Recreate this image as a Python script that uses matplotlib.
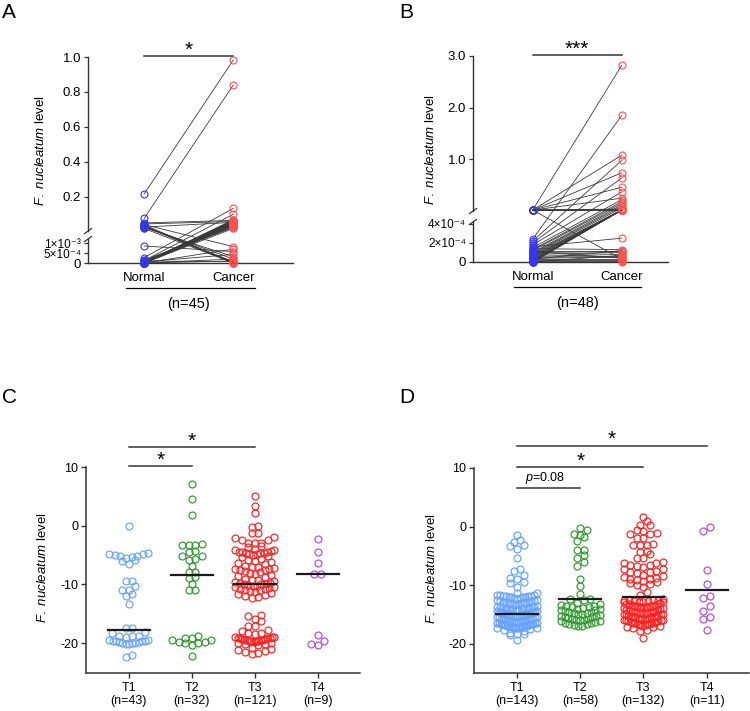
import numpy as np
import matplotlib
matplotlib.use('Agg')
import matplotlib.pyplot as plt

plt.rcParams['font.family'] = ['Liberation Sans', 'DejaVu Sans']
plt.rcParams['mathtext.fontset'] = 'custom'
plt.rcParams['mathtext.rm'] = 'Liberation Sans'
plt.rcParams['mathtext.it'] = 'Liberation Sans:italic'
plt.rcParams['axes.unicode_minus'] = False
plt.rcParams['font.size'] = 9

# ---------------- data ----------------
# panel A: paired normal / cancer (n=45)
normal_a = [0.217, 0.078, 0.052, 0.046, 0.042, 0.040, 0.036, 0.034, 0.033, 0.031,
            0.030, 0.028, 0.025, 0.020, 0.00085, 0.00027, 0.00012, 0.0, 0.0, 0.00005,
            0.0, 0.00002, 0.0, 0.0, 0.00008, 0.0, 0.0, 0.00003, 0.0, 0.0,
            0.0001, 0.0, 0.0, 0.00004, 0.0, 0.0, 0.00015, 0.0, 0.0, 0.00006,
            0.0, 0.0001, 0.0, 0.00002, 0.0]
cancer_a = [0.983, 0.840, 0.066, 0.060, 0.00082, 0.0, 0.00002, 0.00007, 0.0, 0.00020,
            0.00004, 0.055, 0.00032, 0.0, 0.00057, 0.135, 0.101, 0.070, 0.066, 0.064,
            0.062, 0.060, 0.058, 0.056, 0.054, 0.052, 0.050, 0.048, 0.046, 0.044,
            0.042, 0.040, 0.038, 0.036, 0.034, 0.030, 0.025, 0.020, 0.00070, 0.00043,
            0.00020, 0.00007, 0.0, 0.00002, 0.00010]

# panel B: paired normal / cancer (n=48)
normal_b = [0.02, 0.02, 0.02, 0.02, 0.02, 0.02, 0.02, 0.02, 0.02, 0.02,
            0.02, 0.02, 0.00024, 0.00022, 0.0002, 0.00018, 0.00016, 0.00015, 0.00013, 0.00012,
            0.0001, 0.00009, 0.00008, 0.00007, 0.00006, 0.00005, 0.00004, 0.00003, 0.00002, 0.00001,
            0.0, 0.0, 0.0, 0.00002, 0.00014, 0.00012, 0.0001, 0.00008, 0.00006, 0.00005,
            0.00004, 0.00003, 0.00002, 0.00001, 0.0, 0.00011, 0.00003, 0.0]
cancer_b = [2.82, 1.08, 0.74, 0.46, 0.25, 0.02, 0.021, 0.019, 0.022, 0.00003,
            0.04, 0.018, 1.85, 0.98, 0.64, 0.37, 0.00025, 0.22, 0.18, 0.15,
            0.12, 0.09, 0.06, 0.02, 0.021, 0.019, 0.023, 0.02, 0.018, 0.022,
            0.02, 0.019, 0.021, 0.017, 0.00013, 0.00012, 0.00011, 0.0001, 0.00008, 0.00006,
            0.00005, 0.00003, 0.00002, 0.00001, 0.0, 0.00004, 0.00012, 0.00007]

stages = ['T1', 'T2', 'T3', 'T4']

# panel C
c_t1 = [0.0, -4.7, -4.8, -4.9, -5.0, -5.1, -5.2, -5.3, -5.5, -5.8, -6.0, -6.6,
        -9.5, -9.5, -10.2, -10.9, -10.9, -11.6, -11.9, -13.4,
        -17.5, -17.5, -18.1, -18.2, -18.7, -18.8, -18.8, -18.9,
        -19.4, -19.5, -19.6, -19.6, -19.7, -19.7, -19.8, -19.8, -19.9, -20.0, -20.0, -20.1, -20.2,
        -22.0, -22.3]
c_t2 = [7.1, 4.6, 1.8, -3.1, -3.2, -3.3, -3.2, -4.4, -4.3, -5.2, -5.1, -5.8, -5.7, -6.8,
        -7.9, -7.8, -8.9, -8.8, -10.0, -11.0, -11.0,
        -18.7, -19.2, -19.5, -19.8, -20.0, -20.3, -20.0, -19.8, -19.4, -19.1, -22.2]
c_t3 = [5.0, 3.3, 2.2, 0.0, -0.2, -1.3, -1.3, -2.0, -2.1, -2.4, -2.5, -2.9, -2.9, -2.9,
        -3.5, -3.7, -3.9, -4.1, -4.2, -4.3, -4.4, -4.5, -4.5, -4.6, -4.6, -4.7, -4.8, -4.9,
        -5.0, -5.2, -5.4, -5.6, -5.8, -6.0, -6.2, -6.4, -6.6, -6.8, -7.0, -7.1, -7.2, -7.3,
        -7.4, -7.5, -7.6, -7.7, -7.8, -8.0, -8.2, -8.4, -8.6, -8.8, -9.0, -9.2, -9.3, -9.5,
        -9.6, -9.7, -9.8, -9.9,
        -10.0, -10.0, -10.1, -10.2, -10.3, -10.4, -10.5, -10.6, -10.7, -10.8, -10.9, -11.0,
        -11.1, -11.3, -11.5, -11.7, -11.8, -12.0, -12.1, -12.3,
        -15.2, -15.3, -15.9, -16.2, -17.1, -17.1, -17.7, -17.9, -18.3, -18.3, -18.4,
        -18.9, -19.0, -19.0, -19.1, -19.1, -19.2, -19.2, -19.3, -19.3, -19.4, -19.4, -19.5,
        -19.5, -19.6, -19.6, -19.7, -19.7, -19.8, -19.9, -20.0, -20.1, -20.2, -20.3,
        -20.8, -21.0, -21.2, -21.4, -21.6, -21.8, -21.5]
c_t4 = [-2.2, -4.4, -6.4, -8.3, -8.2, -18.6, -19.6, -20.4, -20.1]
c_median = [-17.7, -8.4, -10.0, -8.3]
c_n = [43, 32, 121, 9]

# panel D
d_t1 = [-1.4, -2.3, -2.7, -3.2, -3.4, -3.8, -5.3, -7.3, -7.5, -8.2, -8.8, -9.0, -9.5, -9.6,
        -10.3, -11.3, -11.4,
        -11.6, -11.7, -11.7, -11.8, -11.8, -11.9, -11.9, -12.0, -12.0, -12.1, -12.1, -12.2,
        -12.2, -12.3,
        -12.5, -12.6, -12.6, -12.7, -12.7, -12.8, -12.8, -12.9, -12.9, -13.0, -13.0, -13.1,
        -13.1, -13.2, -13.2, -13.3,
        -13.6, -13.7, -13.7, -13.8, -13.8, -13.9, -13.9, -14.0, -14.0, -14.0, -14.1, -14.1,
        -14.1, -14.2, -14.2, -14.3, -14.3, -14.4, -14.4, -14.5,
        -14.6, -14.6, -14.7, -14.7, -14.8, -14.8, -14.9, -14.9, -15.0, -15.0, -15.0, -15.1,
        -15.1, -15.1, -15.2, -15.2, -15.3, -15.3, -15.4, -15.4, -15.5, -15.5,
        -15.7, -15.7, -15.8, -15.8, -15.9, -15.9, -16.0, -16.0, -16.0, -16.1, -16.1, -16.1,
        -16.2, -16.2, -16.2, -16.3, -16.3, -16.3, -16.4, -16.4, -16.5, -16.5,
        -16.6, -16.6, -16.6, -16.7, -16.7, -16.7, -16.8, -16.8, -16.8, -16.9, -16.9, -16.9,
        -17.0, -17.0, -17.0, -17.1, -17.1, -17.1, -17.2, -17.2, -17.3, -17.3, -17.4, -17.4,
        -17.5,
        -17.7, -17.9, -18.1, -18.3, -18.5, -18.4, -19.3]
d_t2 = [-0.3, -0.5, -1.2, -1.4, -1.8, -2.5, -4.0, -4.0, -4.9, -5.3, -6.1, -6.7, -8.9,
        -10.1, -11.5, -12.3, -12.4, -12.5,
        -13.0, -13.2, -13.4, -13.5, -13.6, -13.7, -13.8, -13.9, -14.0, -14.1, -14.2, -14.3,
        -14.4, -14.5, -14.6, -14.7, -14.8, -14.9, -15.0, -15.1, -15.2, -15.3, -15.4, -15.5,
        -15.6, -15.7, -15.8, -15.9, -16.0, -16.1, -16.2, -16.3, -16.4, -16.5, -16.6, -16.7,
        -16.8, -16.9, -17.0, -16.0]
d_t3 = [1.6, 0.9, 0.3, 0.2, -0.6, -0.7, -1.1, -1.2, -1.3, -1.9, -2.0, -2.9, -3.1, -3.1,
        -3.2, -4.2, -4.4, -4.7, -5.3, -5.4, -6.1, -6.2, -6.3, -6.5, -6.6, -6.8, -6.9, -7.2,
        -7.3, -7.5, -7.7, -7.8, -8.0, -8.2, -8.4, -8.6, -8.8, -8.9, -9.0, -9.2, -9.3, -9.5,
        -9.6, -9.8, -10.0, -10.4, -11.1, -11.6,
        -12.4, -12.5, -12.5, -12.6, -12.6, -12.7, -12.7, -12.8, -12.8, -12.9, -12.9, -13.0,
        -13.2, -13.3, -13.3, -13.4, -13.4, -13.5, -13.5, -13.6, -13.6, -13.7, -13.7, -13.8,
        -13.8, -13.9, -13.9, -14.0,
        -14.2, -14.3, -14.3, -14.4, -14.4, -14.5, -14.5, -14.6, -14.6, -14.7, -14.7, -14.8,
        -14.8, -14.9, -14.9, -15.0, -15.0, -15.1,
        -15.2, -15.3, -15.3, -15.4, -15.4, -15.5, -15.5, -15.6, -15.6, -15.7, -15.7, -15.8,
        -15.8, -15.9, -15.9, -16.0, -16.0, -16.1,
        -16.2, -16.3, -16.3, -16.4, -16.4, -16.5, -16.5, -16.6, -16.6, -16.7, -16.7, -16.8,
        -16.9, -17.0, -17.1, -17.2, -17.3,
        -17.7, -17.9, -19.1]
d_t4 = [0.0, -0.7, -7.4, -9.8, -11.8, -12.2, -13.5, -14.4, -15.5, -15.8, -17.6]
d_median = [-15.0, -12.4, -12.0, -10.9]
d_n = [143, 58, 132, 11]

stage_colors = ['#66a3ff', '#2b9a2b', '#ff2020', '#b348e0']
normal_color = '#3535f0'
cancer_color = '#ff5050'
spine_color = '#333333'

W, H = 750, 711
fig = plt.figure(figsize=(W / 100, H / 100), dpi=100)


def px_axes(l, t, r, b):
    return fig.add_axes([l / W, 1 - b / H, (r - l) / W, (b - t) / H])


def piecewise(vb, hb):
    vb = np.asarray(vb, float)
    hb = np.asarray(hb, float)

    def lin(x, xs, ys):
        x = np.asarray(x, float)
        out = np.interp(x, xs, ys)
        hi = ys[-1] + (x - xs[-1]) * (ys[-1] - ys[-2]) / (xs[-1] - xs[-2])
        lo = ys[0] + (x - xs[0]) * (ys[1] - ys[0]) / (xs[1] - xs[0])
        return np.where(x > xs[-1], hi, np.where(x < xs[0], lo, out))

    return (lambda v: lin(v, vb, hb)), (lambda h: lin(h, hb, vb))


def paired_panel(rect, normal, cancer, vb, hb, ticks, ticklabels, small_ticks, xlim,
                 n_text, stars, uline):
    ax = px_axes(*rect)
    fwd, inv = piecewise(vb, hb)
    ax.set_yscale('function', functions=(fwd, inv))
    ax.set_ylim(vb[0], vb[-1])
    ax.set_xlim(*xlim)
    for n, c in zip(normal, cancer):
        ax.plot([0, 1], [n, c], color='#3a3a3a', lw=0.6, zorder=2, clip_on=False)
    ax.plot(np.zeros(len(normal)), normal, 'o', mfc='none', mec=normal_color,
            ms=5, mew=0.8, zorder=3, clip_on=False)
    ax.plot(np.ones(len(cancer)), cancer, 'o', mfc='none', mec=cancer_color,
            ms=5, mew=0.8, zorder=3, clip_on=False)
    ax.set_yticks(ticks)
    ax.set_yticklabels(ticklabels)
    ax.set_xticks([0, 1])
    ax.set_xticklabels(['Normal', 'Cancer'])
    ax.tick_params(direction='out', length=3, width=0.9, color=spine_color,
                   labelsize=9.5, pad=2)
    ax.tick_params(axis='x', length=2.5, pad=4)
    for i in small_ticks:
        ax.get_yticklabels()[i].set_fontsize(8.5)
    for s in ['top', 'right', 'left']:
        ax.spines[s].set_visible(False)
    ax.spines['bottom'].set_linewidth(1.0)
    ax.spines['bottom'].set_color(spine_color)
    # broken left spine
    ytr = ax.get_yaxis_transform()
    ax.plot([0, 0], [vb[0], vb[1]], color=spine_color, lw=1.0, transform=ytr, clip_on=False)
    ax.plot([0, 0], [vb[2], vb[3]], color=spine_color, lw=1.0, transform=ytr, clip_on=False)
    wpx = rect[2] - rect[0]
    hpx = rect[3] - rect[1]
    for hb_mark in (hb[1], hb[2]):
        fy = hb_mark / hb[-1]
        ax.plot([-3.5 / wpx, 3.5 / wpx], [fy - 2.5 / hpx, fy + 2.5 / hpx],
                color=spine_color, lw=0.9, transform=ax.transAxes, clip_on=False)
    # significance bar
    xtr = ax.get_xaxis_transform()
    ax.plot([0, 1], [1.005, 1.005], color=spine_color, lw=1.1, transform=xtr, clip_on=False)
    ax.text(0.5, 0.985, stars, ha='center', va='bottom', fontsize=15, transform=xtr)
    # underline and n
    ax.plot(uline, [-0.123, -0.123], color='black', lw=0.9, transform=xtr, clip_on=False)
    ax.text(0.5, -0.2, n_text, ha='center', va='center', fontsize=10.5, transform=xtr)
    return ax


paired_panel((88, 57, 293, 263), normal_a, cancer_a,
             [0, 1.2e-3, 0.005, 1.0], [0, 24, 31.9, 206],
             [0, 5e-4, 1e-3, 0.2, 0.4, 0.6, 0.8, 1.0],
             ['0', '5×10⁻⁴', '1×10⁻³', '0.2', '0.4', '0.6', '0.8', '1.0'],
             [1, 2], (-0.63, 1.67), '(n=45)', '*', [-0.2, 1.24])

paired_panel((473, 56, 668, 262), normal_b, cancer_b,
             [0, 4.2e-4, 0.002, 3.0], [0, 40, 51.0, 206],
             [0, 2e-4, 4e-4, 1.0, 2.0, 3.0],
             ['0', '2×10⁻⁴', '4×10⁻⁴', '1.0', '2.0', '3.0'],
             [1, 2], (-0.67, 1.52), '(n=48)', '***', [-0.21, 1.22])


def swarm_offsets(vals, row_h, step, max_half):
    vals = np.asarray(vals, float)
    order = np.argsort(vals)
    offs = np.zeros(len(vals))
    rows, cur = [], [order[0]]
    for i in order[1:]:
        if vals[i] - vals[cur[0]] < row_h:
            cur.append(i)
        else:
            rows.append(cur)
            cur = [i]
    rows.append(cur)
    for row in rows:
        k = len(row)
        s = step if k < 2 else min(step, 2 * max_half / (k - 1))
        if k % 2:
            slots = [0] + [sg * j for j in range(1, k // 2 + 1) for sg in (-1, 1)]
        else:
            slots = [sg * (j - 0.5) for j in range(1, k // 2 + 1) for sg in (-1, 1)]
        for idx, sl in zip(row, slots):
            offs[idx] = sl * s
    return offs


def stage_panel(rect, groups, medians, ns, bars):
    ax = px_axes(*rect)
    ax.set_ylim(-25, 10)
    ax.set_xlim(-0.68, 3.67)
    for i, (vals, col) in enumerate(zip(groups, stage_colors)):
        xo = swarm_offsets(vals, 1.0, 0.105, 0.31)
        ax.plot(i + xo, vals, 'o', mfc='none', mec=col, ms=5, mew=0.85,
                ls='none', zorder=2)
        ax.plot([i - 0.33, i + 0.33], [medians[i], medians[i]], color='#1a1a1a',
                lw=1.6, zorder=3)
    ax.set_yticks([-20, -10, 0, 10])
    ax.set_xticks(range(4))
    ax.set_xticklabels([f'{s}\n(n={n})' for s, n in zip(stages, ns)], linespacing=1.15)
    ax.tick_params(direction='out', length=3.5, width=1.0, color=spine_color,
                   labelsize=9, pad=2)
    ax.tick_params(axis='x', pad=3)
    for s in ['top', 'right']:
        ax.spines[s].set_visible(False)
    for s in ['left', 'bottom']:
        ax.spines[s].set_linewidth(1.1)
        ax.spines[s].set_color(spine_color)
    for x0, x1, y, label in bars:
        ax.plot([x0, x1], [y, y], color=spine_color, lw=1.1, clip_on=False)
        if label == '*':
            ax.text((x0 + x1) / 2, y - 0.6, '*', ha='center', va='bottom', fontsize=15)
        else:
            ax.text((x0 + x1) / 2 - 0.06, y + 0.3, label, ha='center', va='bottom',
                    fontsize=9)
    return ax


stage_panel((86, 467, 360, 672.5), [c_t1, c_t2, c_t3, c_t4], c_median, c_n,
            [(0, 1, 10.2, '*'), (0, 2, 13.4, '*')])
stage_panel((474, 468, 749, 673), [d_t1, d_t2, d_t3, d_t4], d_median, d_n,
            [(0, 1, 6.6, '$\\it{p}$=0.08'), (0, 2, 10.2, '*'), (0, 3, 13.8, '*')])

# y labels and panel letters
ylab = '$\\it{F.\\ nucleatum}$ level'
for x, y in [(40, 151), (431, 150), (43, 568), (432, 569)]:
    fig.text(x / W, 1 - y / H, ylab, rotation=90, ha='center', va='center', fontsize=9.5)
for x, y, s in [(2, 3, 'A'), (399, 3, 'B'), (2, 388, 'C'), (399, 388, 'D')]:
    fig.text(x / W, 1 - y / H, s, ha='left', va='top', fontsize=15)

fig.savefig('out.png', dpi=100)
